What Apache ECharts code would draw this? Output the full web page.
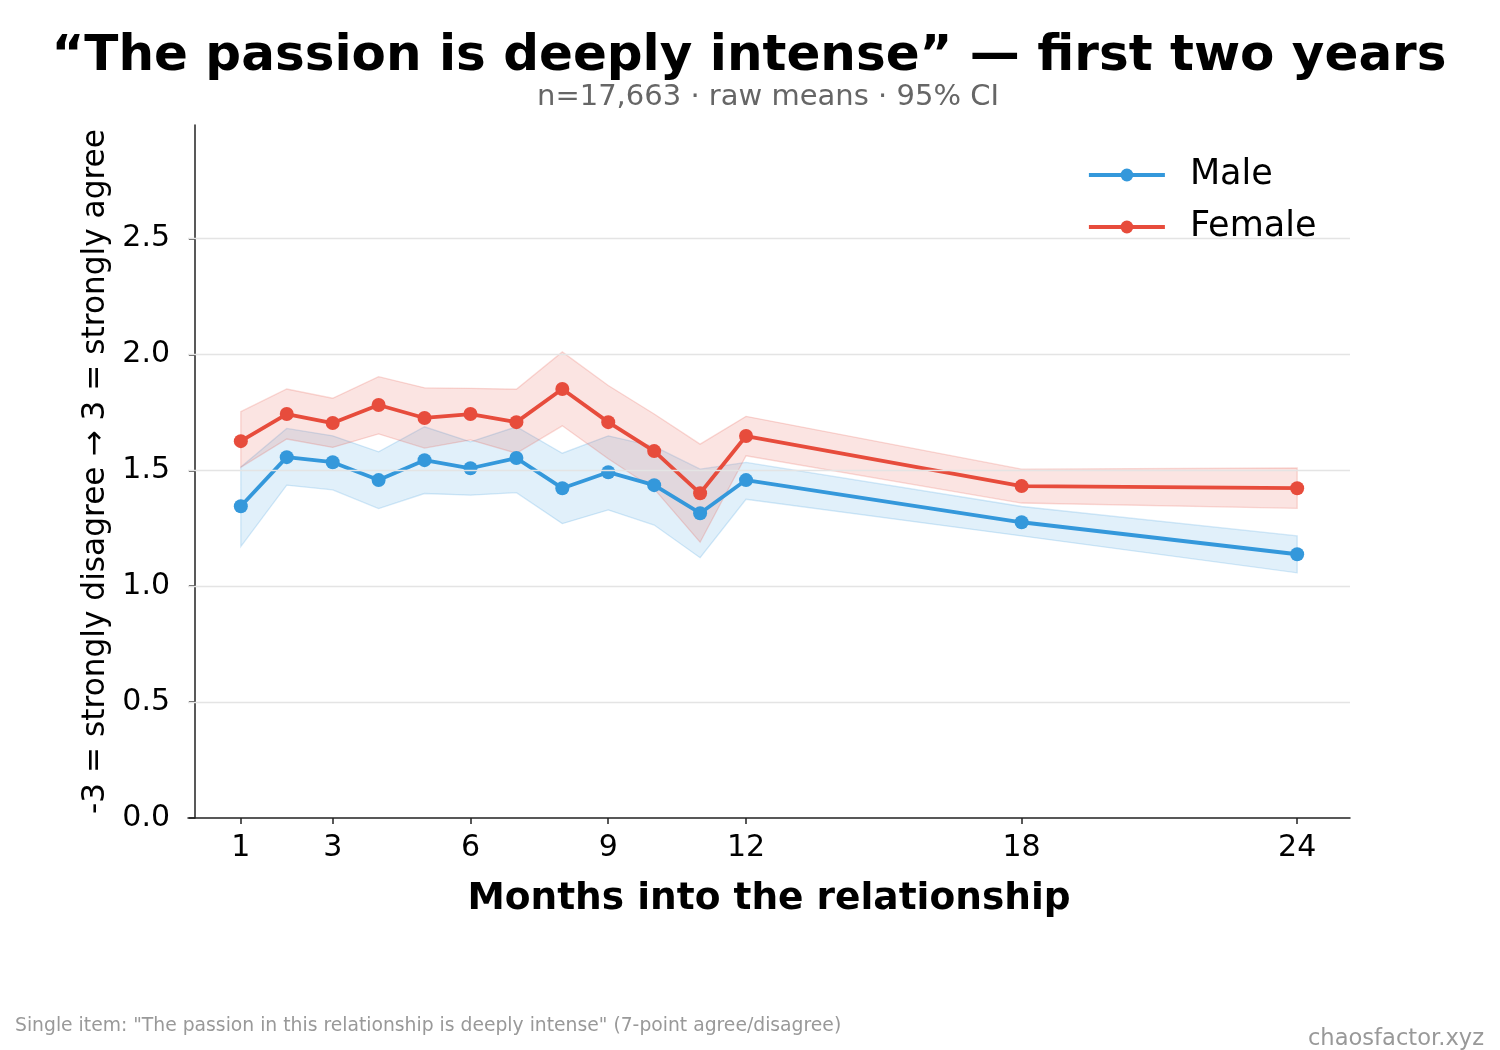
<!DOCTYPE html>
<html>
<head>
<meta charset="utf-8">
<script src="https://cdn.jsdelivr.net/npm/echarts@6/dist/echarts.min.js"></script>
<style>
html,body{margin:0;padding:0;background:#fff;}
#chart{width:1500px;height:1050px;}
</style>
</head>
<body>
<div id="chart"></div>
<script>
const months = [1,2,3,4,5,6,7,8,9,10,11,12,18,24];
const xTicks = [1,3,6,9,12,18,24];
const yTicks = [0,0.5,1.0,1.5,2.0,2.5];
const yGrid = [0.5,1.0,1.5,2.0,2.5];

const maleMean = [1.345,1.557,1.535,1.458,1.544,1.509,1.553,1.423,1.492,1.436,1.315,1.458,1.276,1.138];
const maleLo   = [1.171,1.436,1.416,1.335,1.400,1.393,1.404,1.270,1.329,1.264,1.123,1.375,1.217,1.058];
const maleHi   = [1.514,1.681,1.649,1.580,1.688,1.623,1.688,1.574,1.649,1.603,1.505,1.534,1.344,1.217];

const femaleMean = [1.626,1.743,1.704,1.782,1.726,1.743,1.708,1.851,1.708,1.583,1.401,1.648,1.432,1.423];
const femaleLo   = [1.513,1.635,1.599,1.657,1.596,1.631,1.574,1.692,1.550,1.420,1.190,1.563,1.359,1.336];
const femaleHi   = [1.753,1.851,1.811,1.904,1.856,1.854,1.850,2.011,1.866,1.743,1.613,1.733,1.505,1.510];

const MALE = '#3498db', FEMALE = '#e74c3c';
const FONT = 'DejaVu Sans';

function pairs(xs, ys){ return xs.map((x,i)=>[x, ys[i]]); }

function band(name, lo, hi, rgb){
  const data = months.map((m,i)=>[m, lo[i], hi[i]]);
  return {
    name: name, type: 'custom', silent: true, z: 1,
    data: data,
    encode: {x: 0, y: [1, 2]},
    renderItem: function(params, api){
      if (params.dataIndex !== 0) return null;
      const upper = data.map(d => api.coord([d[0], d[2]]));
      const lower = data.map(d => api.coord([d[0], d[1]])).reverse();
      return {
        type: 'polygon',
        shape: {points: upper.concat(lower)},
        style: {fill: 'rgba(' + rgb + ',0.15)', stroke: 'rgba(' + rgb + ',0.2)', lineWidth: 1.3}
      };
    }
  };
}

const chart = echarts.init(document.getElementById('chart'), null, {renderer: 'canvas'});
chart.setOption({
  animation: false,
  backgroundColor: '#ffffff',
  textStyle: {fontFamily: FONT},
  title: [
    {text: '\u201CThe passion is deeply intense\u201D \u2014 first two years', left: 744, textAlign: 'center', top: 27,
     textStyle: {fontFamily: FONT, fontSize: 50, fontWeight: 'bold', color: '#000'}},
    {text: 'n=17,663 \u00B7 raw means \u00B7 95% CI', left: 763, textAlign: 'center', top: 78,
     textStyle: {fontFamily: FONT, fontSize: 29, fontWeight: 'normal', color: '#666'}}
  ],
  grid: {left: 188, right: 150, top: 125, bottom: 232, containLabel: false},
  legend: {
    data: ['Male', 'Female'], orient: 'vertical', left: 1082, top: 150,
    itemWidth: 76, itemHeight: 16, itemGap: 12,
    lineStyle: {width: 3.8},
    textStyle: {fontFamily: FONT, fontSize: 35, color: '#000', lineHeight: 40, padding: [0,0,0,20]}
  },
  xAxis: {
    type: 'value', min: -0.15, max: 25.15,
    name: 'Months into the relationship', nameLocation: 'middle', nameGap: 62,
    nameTextStyle: {fontFamily: FONT, fontSize: 37.5, fontWeight: 'bold', color: '#000'},
    axisLine: {show: true, lineStyle: {color: '#222', width: 1.5}},
    axisTick: {show: true, customValues: xTicks, length: 6, lineStyle: {color: '#222', width: 1.5}},
    axisLabel: {customValues: xTicks, fontFamily: FONT, fontSize: 30, color: '#000', margin: 15},
    splitLine: {show: false}
  },
  yAxis: {
    type: 'value', min: 0, max: 2.99, interval: 0.5,
    name: '-3 = strongly disagree \u2192 3 = strongly agree', nameLocation: 'middle', nameGap: 72, nameRotate: 90,
    nameTextStyle: {fontFamily: FONT, fontSize: 31.2, color: '#000'},
    axisLine: {show: true, lineStyle: {color: '#222', width: 1.5}},
    axisTick: {show: true, customValues: yTicks, length: 6, lineStyle: {color: '#222', width: 1.5}},
    axisLabel: {customValues: yTicks, fontFamily: FONT, fontSize: 30, color: '#000', margin: 18,
      formatter: v => v.toFixed(1)},
    splitLine: {show: false}
  },
  series: [
    {
      name: 'grid', type: 'line', data: [], silent: true, z: 0,
      markLine: {silent: true, symbol: 'none', label: {show: false},
        lineStyle: {color: '#e4e4e4', width: 1.3, type: 'solid'},
        data: yGrid.map(v => ({yAxis: v}))}
    },
    band('Male CI', maleLo, maleHi, '52,152,219'),
    band('Female CI', femaleLo, femaleHi, '231,76,60'),
    {
      name: 'Male', type: 'line', data: pairs(months, maleMean), z: 3,
      symbol: 'circle', symbolSize: 14, color: MALE,
      lineStyle: {color: MALE, width: 3.8}, itemStyle: {color: MALE}
    },
    {
      name: 'Female', type: 'line', data: pairs(months, femaleMean), z: 3,
      symbol: 'circle', symbolSize: 14, color: FEMALE,
      lineStyle: {color: FEMALE, width: 3.8}, itemStyle: {color: FEMALE}
    }
  ],
  graphic: [
    {type: 'text', left: 15, top: 1017,
     style: {text: 'Single item: "The passion in this relationship is deeply intense" (7-point agree/disagree)',
       fontFamily: FONT, fontSize: 18.75, fill: '#999'}},
    {type: 'text', right: 16, top: 1028,
     style: {text: 'chaosfactor.xyz', fontFamily: FONT, fontSize: 22.6, fill: '#999'}}
  ]
});
</script>
</body>
</html>
